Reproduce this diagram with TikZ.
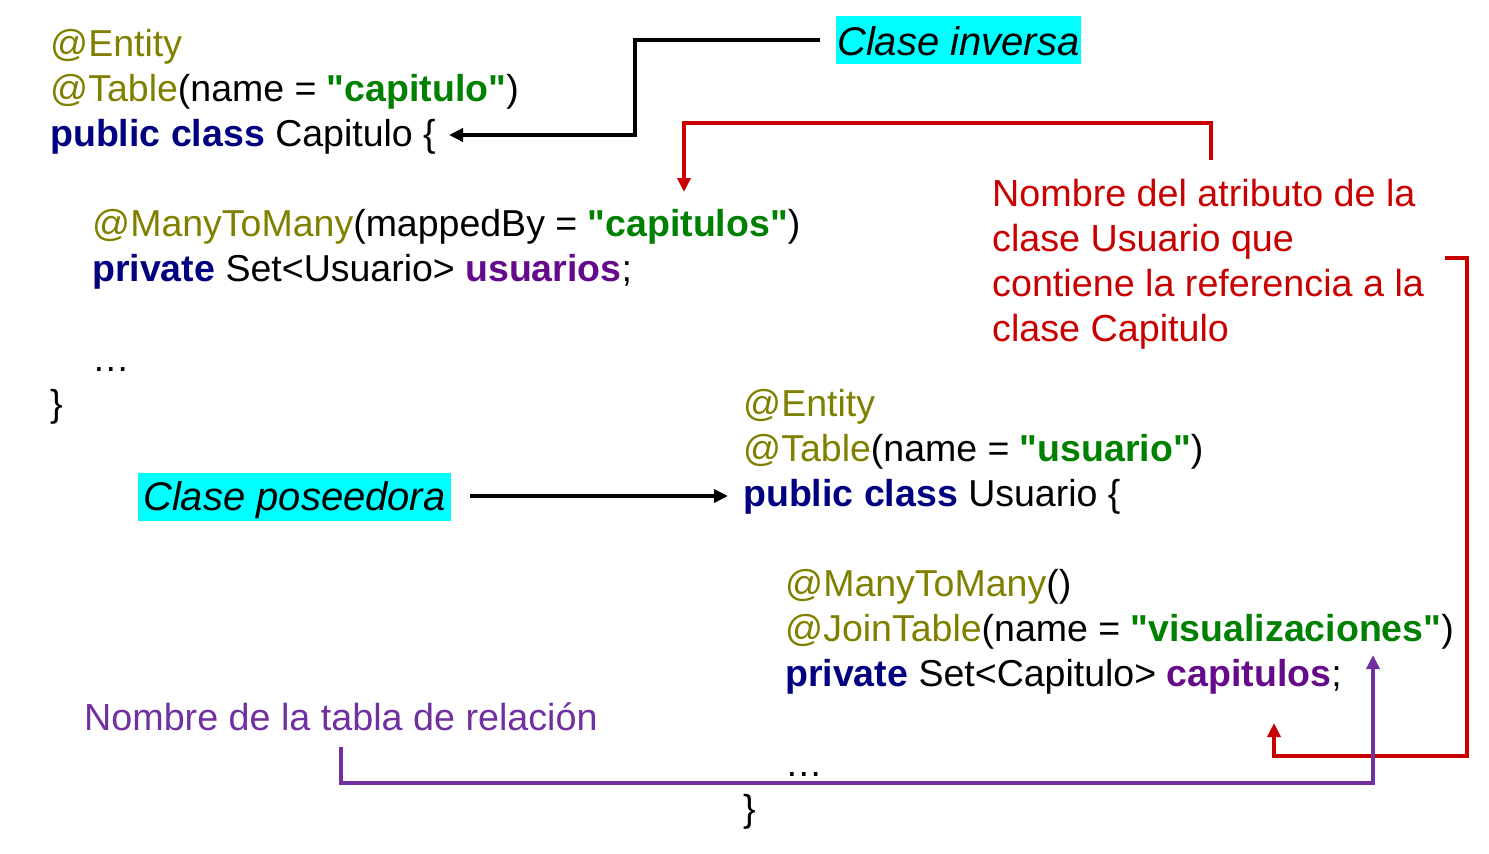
\documentclass[tikz,border=0pt]{standalone}
\usepackage{fontspec}
\setmainfont{Liberation Sans}
\usetikzlibrary{arrows.meta}
\definecolor{annot}{RGB}{128,128,0}
\definecolor{kw}{RGB}{0,0,128}
\definecolor{str}{RGB}{0,128,0}
\definecolor{fld}{RGB}{102,10,140}
\definecolor{redc}{RGB}{200,0,0}
\definecolor{purp}{RGB}{112,48,160}
\definecolor{hilite}{RGB}{0,255,255}
\newcommand{\Qt}{\XeTeXglyph\XeTeXcharglyph"22\relax}
\newcommand{\An}[1]{\textcolor{annot}{#1}}
\newcommand{\Kw}[1]{\textcolor{kw}{\textbf{#1}}}
\newcommand{\St}[1]{\textcolor{str}{\textbf{\Qt#1\Qt}}}
\newcommand{\Fd}[1]{\textcolor{fld}{\textbf{#1}}}
\begin{document}
\begin{tikzpicture}[x=1pt,y=-1pt,
  code/.style={anchor=base west,inner sep=0pt,font=\fontsize{37.5}{45}\selectfont},
  note/.style={anchor=base west,inner sep=0pt,font=\fontsize{37.7}{45}\selectfont},
  tag/.style={anchor=base west,fill=hilite,inner ysep=0pt,font=\fontsize{40}{45}\selectfont\itshape},
  conn/.style={line width=3.4pt,-{Triangle[length=14pt,width=13pt]}},
]
\useasboundingbox (0,0) rectangle (1489,854);
% class Capitulo
\node[code] (a1) at (50,56) {\An{@Entity}};
\node[code] (a2) at (50,101) {\An{@Table}(name = \St{capitulo})};
\node[code] (a3) at (50,146) {\Kw{public class} Capitulo \{};
\node[code] (a4) at (92,236) {\An{@ManyToMany}(mappedBy = \St{capitulos})};
\node[code] (a5) at (92,281) {\Kw{private} Set<Usuario> \Fd{usuarios};};
\node[code] (a6) at (92,371) {\dots};
\node[code] (a7) at (50,416) {\}};
% class Usuario
\node[code] (b1) at (743,416) {\An{@Entity}};
\node[code] (b2) at (743,461) {\An{@Table}(name = \St{usuario})};
\node[code] (b3) at (743,506) {\Kw{public class} Usuario \{};
\node[code] (b4) at (785,596) {\An{@ManyToMany}()};
\node[code] (b5) at (785,641) {\An{@JoinTable}(name = \St{visualizaciones})};
\node[code] (b6) at (785,686) {\Kw{private} Set<Capitulo> \Fd{capitulos};};
\node[code] (b7) at (785,776) {\dots};
\node[code] (b8) at (743,821) {\}};
% labels
\node[tag,inner xsep=1pt,text height=39pt,text depth=9pt] (inv) at (836,55) {Clase inversa};
\node[tag,inner xsep=5pt,text height=37pt,text depth=11pt] (pos) at (138,510) {Clase poseedora};
\node[note,text=redc,align=left,anchor=north west] (red) at (992,179)
  {Nombre del atributo de la\\clase Usuario que\\contiene la referencia a la\\clase Capitulo};
\node[note,text=purp] (tab) at (84,730) {Nombre de la tabla de relación};
% connectors
\coordinate (k1) at (635,40);
\coordinate (k2) at (635,135);
\coordinate (k3) at (449,135);
\draw[conn,black] ([xshift=-16pt]inv.west) -- (k1) -- (k2) -- (k3);
\coordinate (p1) at (470,496);
\coordinate (p2) at (728,496);
\draw[conn,black] (p1) -- (p2);
\coordinate (r1) at (1211,160);
\coordinate (r2) at (1211,123);
\coordinate (r3) at (684,123);
\coordinate (r4) at (684,192);
\draw[conn,redc] (r1) -- (r2) -- (r3) -- (r4);
\coordinate (s1) at (1445,258);
\coordinate (s2) at (1467,258);
\coordinate (s3) at (1467,756);
\coordinate (s4) at (1274,756);
\coordinate (s5) at (1274,723);
\draw[conn,redc] (s1) -- (s2) -- (s3) -- (s4) -- (s5);
\coordinate (u1) at (341,747);
\coordinate (u2) at (341,783);
\coordinate (u3) at (1373,783);
\coordinate (u4) at (1373,655);
\draw[conn,purp] (u1) -- (u2) -- (u3) -- (u4);
\end{tikzpicture}
\end{document}
